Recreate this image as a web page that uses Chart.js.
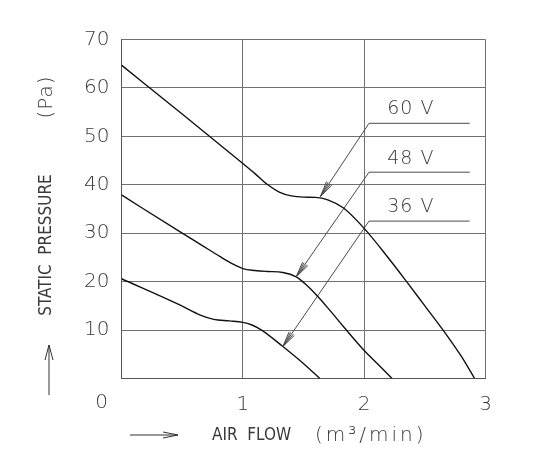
<!DOCTYPE html>
<html>
<head>
<meta charset="utf-8">
<script src="https://cdn.jsdelivr.net/npm/chart.js@4.4.0/dist/chart.umd.min.js"></script>
<style>
  html, body { margin: 0; padding: 0; background: #fff; }
  #wrap { width: 545px; height: 450px; }
</style>
</head>
<body>
<div id="wrap"><canvas id="fanChart" width="545" height="450"></canvas></div>
<script>
/* Fan P-Q curves: static pressure vs air flow at three supply voltages */

// axis ticks
const flowTicks = [0, 1, 2, 3];
const pressureTicks = [0, 10, 20, 30, 40, 50, 60, 70];

// 60 V curve
const flow60 = [0, 0.5, 1.0, 1.1, 1.2, 1.3, 1.4, 1.5, 1.6, 1.7, 1.83, 2.0, 2.19, 2.35, 2.5, 2.65, 2.8, 2.91];
const pres60 = [64.7, 54.6, 44.4, 42.3, 40.1, 38.5, 37.7, 37.45, 37.4, 36.9, 35.2, 31.0, 25.2, 20.0, 15.0, 10.0, 4.6, 0];

// 48 V curve
const flow48 = [0, 0.5, 0.65, 0.81, 0.92, 1.0, 1.1, 1.2, 1.33, 1.44, 1.52, 1.62, 1.73, 1.83, 2.0, 2.12, 2.23];
const pres48 = [37.9, 30.0, 27.7, 25.2, 23.6, 22.7, 22.3, 22.1, 21.9, 21.0, 19.4, 16.9, 13.7, 10.7, 5.8, 2.8, 0];

// 36 V curve
const flow36 = [0, 0.48, 0.65, 0.76, 0.89, 1.0, 1.07, 1.155, 1.33, 1.48, 1.635];
const pres36 = [20.6, 15.2, 13.1, 12.2, 11.9, 11.6, 11.1, 10.0, 6.6, 3.5, 0];

// leader lines: arrow tip on curve -> bend -> end of label underline
const voltLabels = ['60 V', '48 V', '36 V'];
const leaderFlow = [
    [1.64, 2.04, 2.87],
    [1.44, 2.04, 2.87],
    [1.33, 2.04, 2.87]
];
const leaderPres = [
    [37.6, 52.7, 52.7],
    [21.0, 42.6, 42.6],
    [6.6, 32.5, 32.5]
];
const labelFlow = [2.19, 2.19, 2.19];
const labelPres = [55.6, 45.3, 35.5];

const TEXT = '#3a3a3a';
const GRID = '#707070';
const FONT = "'DejaVu Sans', sans-serif";
const FONT_C = "'DejaVu Sans Condensed', 'DejaVu Sans', sans-serif";

function zip(xs, ys) {
    return xs.map((x, i) => ({ x: x, y: ys[i] }));
}

const curveStyle = {
    borderColor: '#111',
    borderWidth: 1.4,
    pointRadius: 0,
    fill: false,
    cubicInterpolationMode: 'monotone'
};

const leaderStyle = {
    borderColor: '#4a4a4a',
    borderWidth: 1,
    pointRadius: 0,
    fill: false,
    tension: 0
};

const datasets = [
    Object.assign({ label: '60 V', data: zip(flow60, pres60) }, curveStyle),
    Object.assign({ label: '48 V', data: zip(flow48, pres48) }, curveStyle),
    Object.assign({ label: '36 V', data: zip(flow36, pres36) }, curveStyle)
];
leaderFlow.forEach((fl, i) => {
    datasets.push(Object.assign({ label: 'leader ' + voltLabels[i], data: zip(fl, leaderPres[i]) }, leaderStyle));
});

/* ==========================================================================
   Decorations: arrowheads, voltage labels, axis captions
   ========================================================================== */
const decorations = {
    id: 'decorations',
    afterDraw(chart) {
        const { ctx, scales: { x, y } } = chart;
        ctx.save();

        // open arrowheads at leader tips
        ctx.strokeStyle = '#4a4a4a';
        ctx.lineWidth = 1;
        leaderFlow.forEach((fl, i) => {
            const tx = x.getPixelForValue(fl[0]), ty = y.getPixelForValue(leaderPres[i][0]);
            const bx = x.getPixelForValue(fl[1]), by = y.getPixelForValue(leaderPres[i][1]);
            const ang = Math.atan2(by - ty, bx - tx);
            [-0.2, 0.2, -0.1, 0.1].forEach(d => {
                ctx.beginPath();
                ctx.moveTo(tx, ty);
                ctx.lineTo(tx + 16 * Math.cos(ang + d), ty + 16 * Math.sin(ang + d));
                ctx.stroke();
            });
        });

        // voltage labels
        ctx.fillStyle = TEXT;
        ctx.font = '300 19px ' + FONT;
        ctx.textAlign = 'left';
        ctx.textBaseline = 'middle';
        ctx.letterSpacing = '1px';
        voltLabels.forEach((t, i) => {
            ctx.fillText(t, x.getPixelForValue(labelFlow[i]), y.getPixelForValue(labelPres[i]));
        });
        ctx.letterSpacing = '0px';

        // shared origin "0"
        ctx.font = '300 20px ' + FONT;
        ctx.textAlign = 'center';
        ctx.fillText('0', x.getPixelForValue(0) - 20, y.bottom + 24);

        // y axis caption, rotated
        ctx.save();
        ctx.translate(47, 0);
        ctx.rotate(-Math.PI / 2);
        ctx.font = '300 17px ' + FONT_C;
        ctx.textAlign = 'center';
        ctx.fillText('STATIC  PRESSURE', -245, 0);
        ctx.font = '300 20px ' + FONT;
        ctx.letterSpacing = '1px';
        ctx.fillText('(Pa)', -97, 0);
        ctx.letterSpacing = '0px';
        ctx.restore();

        // up arrow
        ctx.strokeStyle = '#333';
        ctx.beginPath();
        ctx.moveTo(49, 395); ctx.lineTo(49, 345);
        ctx.moveTo(45, 360); ctx.lineTo(49, 345); ctx.lineTo(53, 360);
        ctx.stroke();

        // right arrow + x caption
        ctx.beginPath();
        ctx.moveTo(130, 435); ctx.lineTo(178, 435);
        ctx.moveTo(163, 432); ctx.lineTo(178, 435); ctx.lineTo(163, 438);
        ctx.stroke();
        ctx.textAlign = 'left';
        ctx.font = '300 17px ' + FONT_C;
        ctx.fillText('AIR  FLOW', 212, 436);
        ctx.font = '300 20px ' + FONT;
        ctx.letterSpacing = '3px';
        ctx.fillText('(m\u00B3/min)', 315, 436);
        ctx.letterSpacing = '0px';

        ctx.restore();
    }
};

const ctx = document.getElementById('fanChart').getContext('2d');
new Chart(ctx, {
    type: 'line',
    data: { datasets: datasets },
    plugins: [decorations],
    options: {
        responsive: false,
        animation: false,
        layout: { padding: { left: 0, right: 59.5, top: 39.5, bottom: 0 } },
        plugins: {
            legend: { display: false },
            tooltip: { enabled: false }
        },
        scales: {
            x: {
                type: 'linear',
                min: flowTicks[0],
                max: flowTicks[flowTicks.length - 1],
                afterBuildTicks: s => { s.ticks = flowTicks.map(v => ({ value: v })); },
                afterFit: s => { s.height = 71.5; },
                grid: { color: GRID, lineWidth: 1, drawTicks: false },
                border: { color: '#555', width: 1 },
                ticks: {
                    padding: 14,
                    color: TEXT,
                    font: { family: FONT, size: 20, weight: 300 },
                    callback: v => (v === 0 ? '' : v)
                }
            },
            y: {
                type: 'linear',
                min: pressureTicks[0],
                max: pressureTicks[pressureTicks.length - 1],
                afterBuildTicks: s => { s.ticks = pressureTicks.map(v => ({ value: v })); },
                afterFit: s => { s.width = 121.5; },
                grid: { color: GRID, lineWidth: 1, drawTicks: false },
                border: { color: '#555', width: 1 },
                ticks: {
                    padding: 12,
                    color: TEXT,
                    font: { family: FONT, size: 20, weight: 300 },
                    callback: v => (v === 0 ? '' : v)
                }
            }
        }
    }
});
</script>
</body>
</html>
